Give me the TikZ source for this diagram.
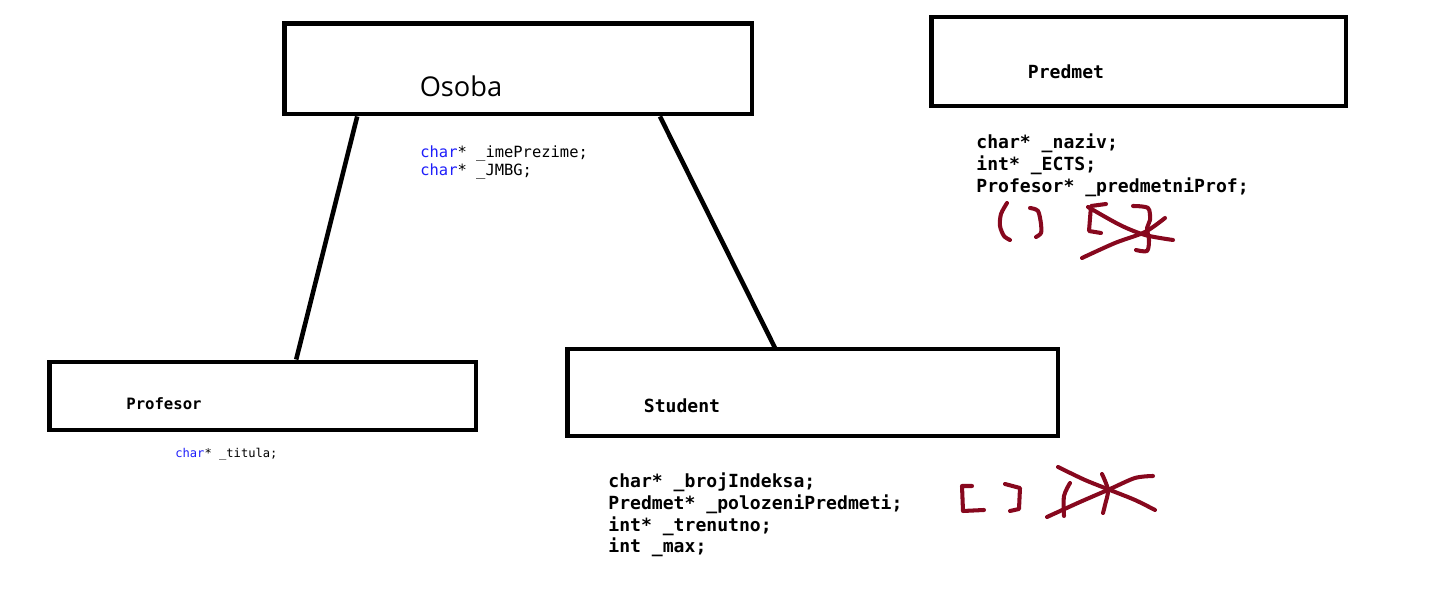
\documentclass[tikz,border=0pt]{standalone}
\usepackage{fontspec}
\setmainfont{Open Sans}
\newfontfamily\codefont{DejaVu Sans Mono}
\usetikzlibrary{calc}
\definecolor{kwblue}{RGB}{30,30,250}
\definecolor{scribred}{RGB}{135,8,30}

\begin{document}
\begin{tikzpicture}[x=0.02cm, y=-0.02cm,
  classbox/.style={draw=black, line width=2.8pt, inner sep=0pt},
  bigcode/.style={font=\codefont\bfseries\fontsize{10.3}{12.4}\selectfont, align=left, anchor=west, inner sep=0pt},
  scrib/.style={draw=scribred, line width=2.3pt, line cap=round, line join=round}]
\useasboundingbox (0,0) rectangle (1431,607);
% class boxes
\node[classbox, minimum width=9.35cm, minimum height=1.81cm] (osoba) at (518.25,68.75) {};
\node[classbox, minimum width=8.3cm, minimum height=1.78cm] (predmet) at (1138.5,61.5) {};
\node[classbox, minimum width=8.54cm, minimum height=1.36cm] (profesor) at (262.5,396) {};
\node[classbox, minimum width=9.82cm, minimum height=1.74cm] (student) at (812.5,392.5) {};
% titles
\node[font=\fontsize{15.5}{18}\selectfont] (osobaname) at (461,86) {Osoba};
\node[font=\codefont\bfseries\fontsize{10.3}{12}\selectfont] (predmetname) at (1066,72) {Predmet};
\node[font=\codefont\bfseries\fontsize{8.9}{11}\selectfont] (profesorname) at (164,404) {Profesor};
\node[font=\codefont\bfseries\fontsize{10.3}{12}\selectfont] (studentname) at (682,406) {Student};
% members
\node[font=\codefont\fontsize{8.8}{10.2}\selectfont, align=left, anchor=west, inner sep=0pt] (osobacode) at (420,162)
  {\textcolor{kwblue}{char}* \_imePrezime;\\\textcolor{kwblue}{char}* \_JMBG;};
\node[font=\codefont\fontsize{6.9}{8}\selectfont, anchor=west, inner sep=0pt] (profesorcode) at (175,454)
  {\textcolor{kwblue}{char}* \_titula;};
\node[bigcode] (predmetcode) at (976,165)
  {char* \_naziv;\\int* \_ECTS;\\Profesor* \_predmetniProf;};
\node[bigcode] (studentcode) at (608,515)
  {char* \_brojIndeksa;\\Predmet* \_polozeniPredmeti;\\int* \_trenutno;\\int \_max;};
% inheritance lines
\draw[line width=2.6pt] ($(osoba.south west)!0.159!(osoba.south east)$) -- ($(profesor.north west)!0.578!(profesor.north east)$);
\draw[line width=2.6pt] ($(osoba.south west)!0.80!(osoba.south east)$) -- ($(student.north west)!0.426!(student.north east)+(0,3)$);
% scribbles near Predmet
\draw[scrib] plot[smooth] coordinates {(1007,203) (1001,214) (1000,226) (1004,236) (1010,240)};
\draw[scrib] plot[smooth] coordinates {(1030,208) (1038,211) (1041,224) (1041,233) (1036,237)};
\draw[scrib] (1106,204) -- (1091,206) -- (1089,231) -- (1101,233);
\draw[scrib] plot[smooth] coordinates {(1133,206) (1148,208) (1150,220) (1147,228) (1149,240) (1147,251) (1136,250)};
\draw[scrib] plot[smooth] coordinates {(1088,207) (1120,225) (1145,235) (1173,240)};
\draw[scrib] plot[smooth] coordinates {(1082,258) (1115,243) (1145,232) (1165,218)};
% scribbles near Student
\draw[scrib] (972,486) -- (962,486) -- (963,511) -- (984,510);
\draw[scrib] (1005,484) -- (1020,488) -- (1019,509) -- (1010,511);
\draw[scrib] plot[smooth] coordinates {(1070,483) (1064,496) (1064,516)};
\draw[scrib] plot[smooth] coordinates {(1102,474) (1108,490) (1105,505) (1103,513)};
\draw[scrib] plot[smooth] coordinates {(1058,467) (1085,480) (1110,490) (1135,500) (1155,510)};
\draw[scrib] plot[smooth] coordinates {(1047,517) (1080,502) (1110,489) (1135,478) (1153,476)};
\end{tikzpicture}
\end{document}
